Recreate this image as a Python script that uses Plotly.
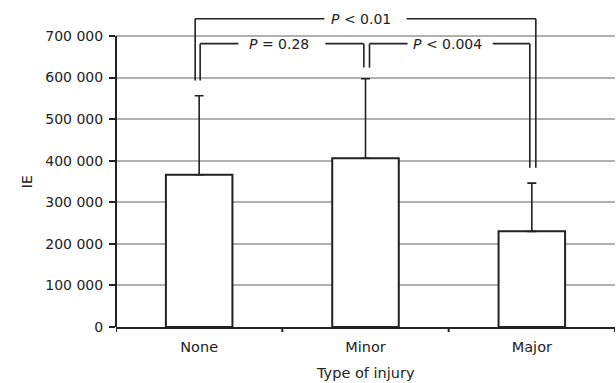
import plotly.graph_objects as go

categories = ["None", "Minor", "Major"]
means = [366000, 406000, 230000]
sd_upper = [190000, 191000, 116000]
y_tickvals = [0, 100000, 200000, 300000, 400000, 500000, 600000, 700000]
y_ticktext = ["0", "100 000", "200 000", "300 000", "400 000", "500 000", "600 000", "700 000"]

# significance brackets: (label, left x, right x, left foot y, right foot y, top y, label x, gap left, gap right)
brackets = [
    ("<i>P</i> < 0.01", -0.024, 2.024, 593000, 383000, 741500, 0.97, 0.753, 1.247),
    ("<i>P</i> = 0.28", 0.006, 0.99, 593000, 624000, 681500, 0.48, 0.235, 0.759),
    ("<i>P</i> < 0.004", 1.024, 1.988, 624000, 383000, 681500, 1.49, 1.253, 1.765),
]

INK = "#222222"
FONT = "DejaVu Sans"

fig = go.Figure()
fig.add_trace(go.Bar(
    x=[0, 1, 2], y=means, width=0.4,
    marker=dict(color="white", line=dict(color=INK, width=2)),
    error_y=dict(type="data", symmetric=False, array=sd_upper, arrayminus=[0, 0, 0],
                 color=INK, thickness=1.6, width=4.5),
    showlegend=False,
))

shapes = []
annotations = []
for label, xl, xr, yl, yr, yt, xt, gap_l, gap_r in brackets:
    line = dict(color=INK, width=1.6)
    shapes.append(dict(type="line", xref="x", yref="y", x0=xl, x1=xl, y0=yl, y1=yt, line=line))
    shapes.append(dict(type="line", xref="x", yref="y", x0=xl, x1=gap_l, y0=yt, y1=yt, line=line))
    shapes.append(dict(type="line", xref="x", yref="y", x0=gap_r, x1=xr, y0=yt, y1=yt, line=line))
    shapes.append(dict(type="line", xref="x", yref="y", x0=xr, x1=xr, y0=yt, y1=yr, line=line))
    annotations.append(dict(x=xt, y=yt, xref="x", yref="y", text=label, showarrow=False,
                            xanchor="center", yanchor="middle",
                            font=dict(family=FONT, size=14, color=INK)))

# y axis line (only up to 700 000)
shapes.append(dict(type="line", xref="paper", yref="y", x0=0, x1=0, y0=0, y1=700000,
                   line=dict(color=INK, width=2)))

annotations.append(dict(x=-0.177, y=350000, xref="paper", yref="y", text="IE", textangle=-90,
                        showarrow=False, xanchor="center", yanchor="middle",
                        font=dict(family=FONT, size=14, color=INK)))
annotations.append(dict(x=0.5, y=-0.145, xref="paper", yref="paper", text="Type of injury",
                        showarrow=False, xanchor="center", yanchor="middle",
                        font=dict(family=FONT, size=14.5, color=INK)))

fig.update_layout(
    width=616, height=383,
    margin=dict(l=116, r=1, t=11, b=56),
    paper_bgcolor="white", plot_bgcolor="white",
    font=dict(family=FONT, size=14, color=INK),
    shapes=shapes, annotations=annotations,
    xaxis=dict(
        range=[-0.5, 2.5], tickmode="array", tickvals=[0, 1, 2], ticktext=categories,
        showgrid=False, zeroline=False, showline=True, linecolor=INK, linewidth=2,
        ticks="", ticklabelstandoff=6, tickfont=dict(family=FONT, size=14.5, color=INK),
    ),
    yaxis=dict(
        range=[0, 760000], tickmode="array", tickvals=y_tickvals, ticktext=y_ticktext,
        showgrid=True, gridcolor="#b0b0b0", gridwidth=1.5, zeroline=False, showline=False,
        ticks="outside", ticklen=6, tickwidth=2, tickcolor=INK, ticklabelstandoff=3,
        tickfont=dict(family=FONT, size=14, color=INK),
    ),
)

# x-axis boundary ticks between categories
for xb in [-0.5, 0.5, 1.5, 2.5]:
    fig.add_shape(type="line", xref="x", yref="paper", x0=xb, x1=xb, y0=0, y1=-0.016,
                  line=dict(color=INK, width=2))

fig.write_html("out.html", config={"displayModeBar": False},
               post_script="document.body.style.margin='0';document.body.style.overflow='hidden';")
